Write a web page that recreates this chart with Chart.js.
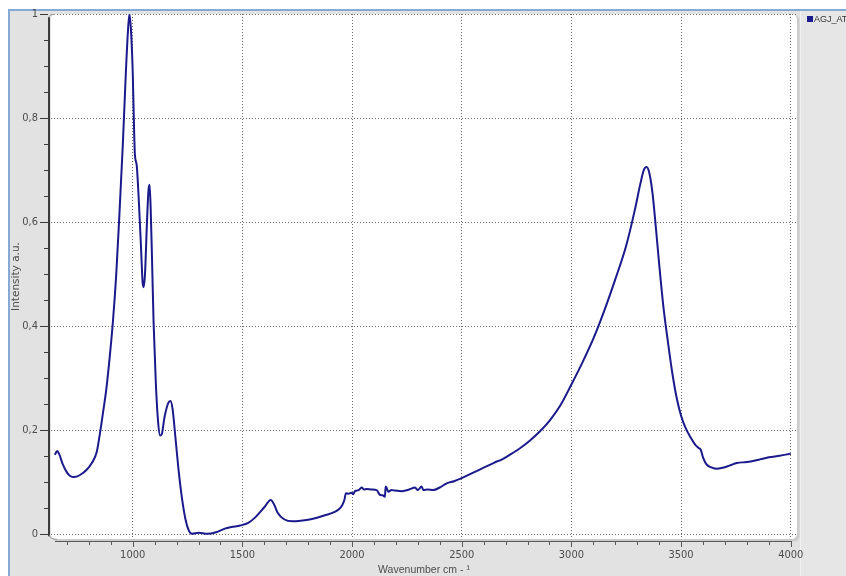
<!DOCTYPE html>
<html><head><meta charset="utf-8">
<script src="https://cdn.jsdelivr.net/npm/chart.js@4/dist/chart.umd.min.js"></script>
<style>html,body{margin:0;padding:0;background:#fff;overflow:hidden}canvas{display:block}</style>
</head><body>
<canvas id="c" width="846" height="576"></canvas>
<script>
const seriesLabel = 'AGJ_AT';
const wavenumbers = [645,656,665,680,700,715,732,760,790,815,836,851,865,880,895,910,925,940,955,968,978,985,992,1000,1005,1010,1018,1028,1038,1045,1050,1056,1065,1072,1077,1082,1088,1095,1105,1115,1125,1132,1145,1160,1172,1182,1195,1210,1225,1240,1255,1270,1300,1340,1380,1420,1450,1490,1527,1560,1600,1629,1645,1660,1690,1730,1765,1800,1840,1880,1915,1940,1955,1965,1972,1985,1998,2005,2013,2030,2044,2055,2066,2090,2112,2127,2140,2150,2153,2157,2165,2180,2196,2230,2260,2287,2300,2317,2325,2345,2370,2400,2432,2465,2500,2550,2600,2640,2660,2680,2720,2767,2810,2857,2900,2950,3000,3050,3100,3150,3200,3250,3290,3315,3330,3342,3355,3370,3385,3400,3420,3440,3460,3480,3500,3520,3545,3565,3580,3590,3600,3615,3635,3660,3690,3720,3754,3800,3860,3900,3950,4000];
const intensity = [0.153,0.160,0.154,0.136,0.119,0.112,0.110,0.114,0.124,0.138,0.158,0.195,0.235,0.28,0.34,0.41,0.50,0.62,0.75,0.88,0.965,1.0,0.97,0.89,0.80,0.73,0.71,0.64,0.55,0.485,0.475,0.50,0.60,0.662,0.672,0.625,0.53,0.41,0.295,0.22,0.19,0.192,0.225,0.25,0.256,0.24,0.185,0.12,0.068,0.03,0.008,0.001,0.003,0.001,0.004,0.011,0.014,0.017,0.022,0.033,0.052,0.066,0.057,0.042,0.029,0.025,0.026,0.028,0.032,0.037,0.042,0.048,0.056,0.066,0.079,0.078,0.080,0.077,0.083,0.085,0.090,0.086,0.087,0.086,0.085,0.076,0.075,0.072,0.092,0.090,0.082,0.085,0.084,0.083,0.086,0.090,0.085,0.092,0.085,0.086,0.085,0.090,0.098,0.102,0.108,0.118,0.128,0.136,0.140,0.143,0.153,0.166,0.180,0.198,0.218,0.248,0.288,0.330,0.376,0.430,0.490,0.555,0.625,0.675,0.700,0.706,0.695,0.655,0.59,0.52,0.435,0.37,0.31,0.262,0.228,0.205,0.185,0.172,0.166,0.162,0.148,0.135,0.129,0.126,0.128,0.132,0.137,0.139,0.144,0.148,0.151,0.155];

const xTicks = [700,800,900,1000,1100,1200,1300,1400,1500,1600,1700,1800,1900,2000,2100,2200,2300,2400,2500,2600,2700,2800,2900,3000,3100,3200,3300,3400,3500,3600,3700,3800,3900,4000];
const xLabelTicks = [1000,1500,2000,2500,3000,3500,4000];
const yTicks = [0,0.05,0.1,0.15,0.2,0.25,0.3,0.35,0.4,0.45,0.5,0.55,0.6,0.65,0.7,0.75,0.8,0.85,0.9,0.95,1];
const yLabelTicks = [0,0.2,0.4,0.6,0.8,1];
const yTickLabels = ['0','0,2','0,4','0,6','0,8','1'];
const xTitle = 'Wavenumber cm - ¹';
const yTitle = 'Intensity a.u.';

const isMajorX = v => xLabelTicks.some(t => Math.abs(t - v) < 1e-6);
const yMajorIndex = v => yLabelTicks.findIndex(t => Math.abs(t - v) < 1e-6);
const tickFont = {family: '"Liberation Sans Narrow", "DejaVu Sans Condensed", "Liberation Sans", sans-serif', size: 11};

function rrect(ctx, x, y, w, h, r) {
  ctx.beginPath();
  ctx.moveTo(x + r, y);
  ctx.lineTo(x + w - r, y); ctx.quadraticCurveTo(x + w, y, x + w, y + r);
  ctx.lineTo(x + w, y + h - r); ctx.quadraticCurveTo(x + w, y + h, x + w - r, y + h);
  ctx.lineTo(x + r, y + h); ctx.quadraticCurveTo(x, y + h, x, y + h - r);
  ctx.lineTo(x, y + r); ctx.quadraticCurveTo(x, y, x + r, y);
  ctx.closePath();
}

const frame = {
  id: 'frame',
  beforeDraw(chart) {
    const {ctx, chartArea: a, width, height} = chart;
    ctx.save();
    ctx.fillStyle = '#ffffff'; ctx.fillRect(0, 0, width, height);
    ctx.fillStyle = '#e2e2e2'; ctx.fillRect(8, 9, width - 8, height - 9);
    ctx.fillStyle = '#e6e6e6'; ctx.fillRect(800, 11, width - 800, height - 11);
    ctx.fillStyle = '#f2f2f2'; ctx.fillRect(800, 11, 1, height - 11);
    ctx.fillStyle = '#86a9d6'; ctx.fillRect(8, 9, width - 8, 2); ctx.fillRect(8, 9, 2, height - 9);
    ctx.fillStyle = 'rgba(0,0,0,0.05)'; rrect(ctx, a.left + 1, a.top + 1, a.width + 2, a.height + 2, 7); ctx.fill();
    ctx.fillStyle = 'rgba(0,0,0,0.05)'; rrect(ctx, a.left + 1, a.top + 1, a.width + 1, a.height + 1, 6); ctx.fill();
    ctx.fillStyle = '#ffffff'; rrect(ctx, a.left, a.top, a.width, a.height, 6); ctx.fill();
    ctx.restore();
  },
  afterDraw(chart) {
    const {ctx, chartArea: a, scales} = chart;
    const xs = scales.x, ys = scales.y;
    ctx.save();
    ctx.fillStyle = '#3c3c3c';
    ctx.fillRect(48, a.top + 3, 2, ys.getPixelForValue(0) - a.top - 1);
    ctx.strokeStyle = '#9a9a9a'; ctx.lineWidth = 1;
    ctx.beginPath(); ctx.moveTo(49, a.top + 4); ctx.quadraticCurveTo(49, a.top, a.left + 4, a.top + 0.5); ctx.stroke();
    ctx.beginPath(); ctx.moveTo(49.5, ys.getPixelForValue(0) + 1); ctx.quadraticCurveTo(50, a.bottom, a.left + 6, a.bottom + 0.5); ctx.stroke();
    ctx.fillStyle = '#3c3c3c';
    yTicks.forEach(v => {
      const y = Math.round(ys.getPixelForValue(v));
      const major = yMajorIndex(v) >= 0;
      ctx.fillRect(major ? 40 : 44, y, major ? 8 : 4, 1);
    });
    const xl = Math.round(xs.getPixelForValue(xTicks[0])) - 12;
    const xr = Math.round(xs.getPixelForValue(4000));
    ctx.fillStyle = '#5a5a5a';
    ctx.fillRect(xl, 541, xr - xl + 1, 1);
    xTicks.forEach(v => {
      const x = Math.round(xs.getPixelForValue(v));
      ctx.fillRect(x, 542, 1, isMajorX(v) ? 5 : 3);
    });
    const ds = chart.data.datasets[0];
    ctx.fillStyle = ds.borderColor;
    ctx.fillRect(807, 16, 6, 6);
    ctx.fillStyle = '#333333';
    ctx.font = '9px "Liberation Sans", Arial, sans-serif';
    ctx.textBaseline = 'middle';
    ctx.textAlign = 'left';
    ctx.fillText(ds.label, 814, 19.5);
    ctx.restore();
  }
};

const points = wavenumbers.map((w, i) => ({x: w, y: intensity[i]}));

new Chart(document.getElementById('c'), {
  type: 'line',
  data: {datasets: [{
    label: seriesLabel,
    data: points,
    borderColor: '#1a1a8c',
    backgroundColor: '#1a1a8c',
    borderWidth: 2,
    pointRadius: 0,
    fill: false,
    cubicInterpolationMode: 'monotone'
  }]},
  options: {
    responsive: false,
    animation: false,
    events: [],
    layout: {padding: {top: 14, left: 0, right: 49, bottom: 0}},
    plugins: {legend: {display: false}, tooltip: {enabled: false}},
    scales: {
      x: {
        type: 'linear', min: 627.5, max: 4028.5,
        afterBuildTicks: s => { s.ticks = xTicks.map(v => ({value: v})); },
        afterFit: s => { s.height = 37; s.paddingLeft = 0; s.paddingRight = 0; },
        ticks: {autoSkip: false, maxRotation: 0, minRotation: 0, padding: 10, color: '#4d4d4d', font: tickFont,
          callback: v => isMajorX(v) ? String(v) : ''},
        grid: {drawTicks: false, lineWidth: 1, color: c => (c.tick && isMajorX(c.tick.value)) ? '#6e6e6e' : 'rgba(0,0,0,0)'},
        border: {display: false, dash: [1, 2]},
        title: {display: true, text: xTitle, color: '#4d4d4d', padding: {top: 0, bottom: 0},
          font: {family: '"Liberation Sans", Arial, sans-serif', size: 10.5}}
      },
      y: {
        type: 'linear', min: -0.009, max: 1.0,
        afterBuildTicks: s => { s.ticks = yTicks.map(v => ({value: v})); },
        afterFit: s => { s.width = 51; s.paddingTop = 0; s.paddingBottom = 0; },
        ticks: {autoSkip: false, padding: 13, color: '#4d4d4d', font: tickFont,
          callback: v => { const i = yMajorIndex(v); return i >= 0 ? yTickLabels[i] : ''; }},
        grid: {drawTicks: false, lineWidth: 1, color: c => (c.tick && yMajorIndex(c.tick.value) >= 0) ? '#6e6e6e' : 'rgba(0,0,0,0)'},
        border: {display: false, dash: [1, 2]},
        title: {display: true, text: yTitle, color: '#4d4d4d', padding: {top: 10, bottom: 0},
          font: {family: '"DejaVu Sans", sans-serif', size: 10.5}}
      }
    }
  },
  plugins: [frame]
});
</script>
</body></html>
